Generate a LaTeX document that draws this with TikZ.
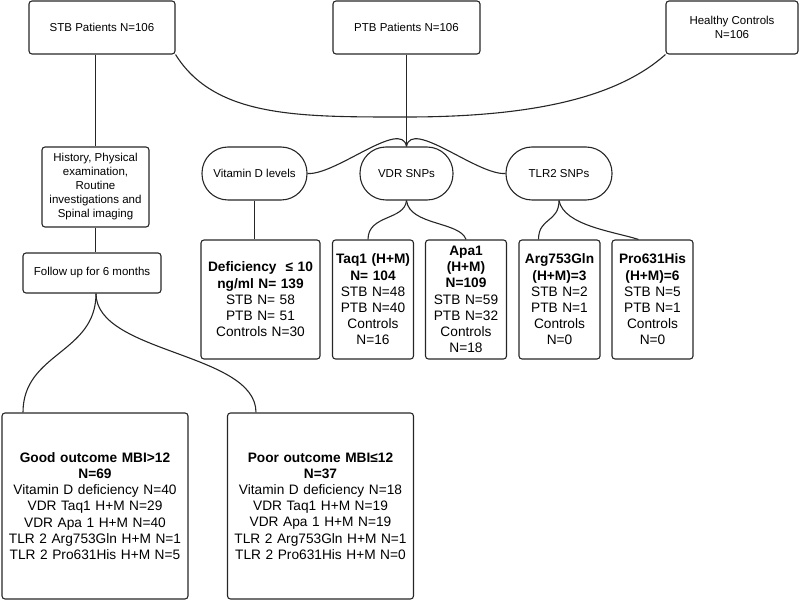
\documentclass[tikz,border=0pt]{standalone}
\usepackage{fontspec}
\setmainfont{Liberation Sans}
\usetikzlibrary{calc}

\tikzset{
  box/.style={draw=black!85, line width=1.1pt, rounded corners=3pt, align=center, inner sep=2pt},
  pill/.style={box, rounded corners=26pt, minimum height=53pt},
  small/.style={font=\fontsize{11.5}{14}\selectfont},
  big/.style={font=\fontsize{13.7}{16.2}\selectfont},
  snpbox/.style={box, big, text width=77pt, minimum width=80pt, minimum height=119pt},
  outbox/.style={box, big, text width=182pt, minimum width=186pt, minimum height=186pt},
  link/.style={draw=black!85, line width=1.1pt},
}

\begin{document}
\begin{tikzpicture}[x=1pt, y=-1pt]
    \useasboundingbox (0,0) rectangle (800,601);

    % Study groups
    \node[box, small, minimum width=146pt, minimum height=53pt] (stb) at (102,27.5) {STB Patients N=106};
    \node[box, small, minimum width=147pt, minimum height=53pt] (ptb) at (406.5,27.5) {PTB Patients N=106};
    \node[box, small, minimum width=132pt, minimum height=53pt] (hc) at (732,27.5) {Healthy Controls\\N=106};
    \coordinate (join) at (406.5,117);

    % Left branch: work-up and follow up
    \node[box, small, minimum width=107pt, minimum height=80pt] (hist) at (95.5,187)
        {History, Physical\\examination,\\Routine\\investigations and\\Spinal imaging};
    \node[box, small, minimum width=138pt, minimum height=40pt] (follow) at (92,273) {Follow up for 6 months};
    \node[outbox] (good) at (95,506)
        {\textbf{Good outcome MBI>12}\\\textbf{N=69}\\Vitamin D deficiency N=40\\VDR Taq1 H+M N=29\\VDR Apa 1 H+M N=40\\TLR 2 Arg753Gln H+M N=1\\TLR 2 Pro631His H+M N=5};
    \node[outbox] (poor) at (320.5,506)
        {\textbf{Poor outcome MBI≤12}\\\textbf{N=37}\\Vitamin D deficiency N=18\\VDR Taq1 H+M N=19\\VDR Apa 1 H+M N=19\\TLR 2 Arg753Gln H+M N=1\\TLR 2 Pro631His H+M N=0};

    % Markers
    \node[pill, small, minimum width=105pt] (vitd) at (254.5,173.5) {Vitamin D levels};
    \node[pill, small, minimum width=93pt] (vdr) at (406.5,173.5) {VDR SNPs};
    \node[pill, small, minimum width=106pt] (tlr) at (559,173.5) {TLR2 SNPs};

    % Results
    \node[box, big, text width=115pt, minimum width=119pt, minimum height=119pt] (def) at (260.5,299.5)
        {\textbf{Deficiency\ \ ≤ 10}\\\textbf{ng/ml N= 139}\\STB N= 58\\PTB N= 51\\Controls N=30};
    \node[snpbox] (taq) at (373,299.5) {\textbf{Taq1 (H+M)}\\\textbf{N= 104}\\STB N=48\\PTB N=40\\Controls\\N=16};
    \node[snpbox] (apa) at (466,299.5) {\textbf{Apa1}\\\textbf{(H+M)}\\\textbf{N=109}\\STB N=59\\PTB N=32\\Controls\\N=18};
    \node[snpbox] (arg) at (559.5,299.5) {\textbf{Arg753Gln}\\\textbf{(H+M)=3}\\STB N=2\\PTB N=1\\Controls\\N=0};
    \node[snpbox] (pro) at (652.5,299.5) {\textbf{Pro631His}\\\textbf{(H+M)=6}\\STB N=5\\PTB N=1\\Controls\\N=0};

    % Connectors
    \draw[link] (stb.south east) .. controls (215,118) and (300,117) .. (join)
        .. controls (540,117) and (620,95) .. (hc.south west);
    \draw[link] (ptb.south) -- (vdr.north);
    \draw[link] (vdr.north) .. controls +(-5,-28) and +(28,2) .. (vitd.east);
    \draw[link] (vdr.north) .. controls +(5,-28) and +(-28,2) .. (tlr.west);

    \draw[link] (vitd.south) -- (vitd.south |- def.north);
    \draw[link] (vdr.south) .. controls +(-2,20) and +(0,-25) .. ([xshift=-5pt]taq.north);
    \draw[link] (vdr.south) .. controls +(3,25) and +(-6,-18) .. (apa.north);
    \draw[link] (tlr.south) .. controls +(0,22) and +(0,-22) .. ([xshift=-21pt]arg.north);
    \draw[link] (tlr.south) .. controls +(5,25) and +(-25,-8) .. ([xshift=-14pt]pro.north);

    \draw[link] (hist.north |- stb.south) -- (hist.north);
    \draw[link] (hist.south) -- (hist.south |- follow.north);
    \draw[link] ([xshift=4pt]follow.south) .. controls +(0,60) and +(0,-60) .. ([xshift=-72pt]good.north);
    \draw[link] ([xshift=4pt]follow.south) .. controls +(0,60) and +(0,-60) .. ([xshift=-64.5pt]poor.north);
\end{tikzpicture}
\end{document}
